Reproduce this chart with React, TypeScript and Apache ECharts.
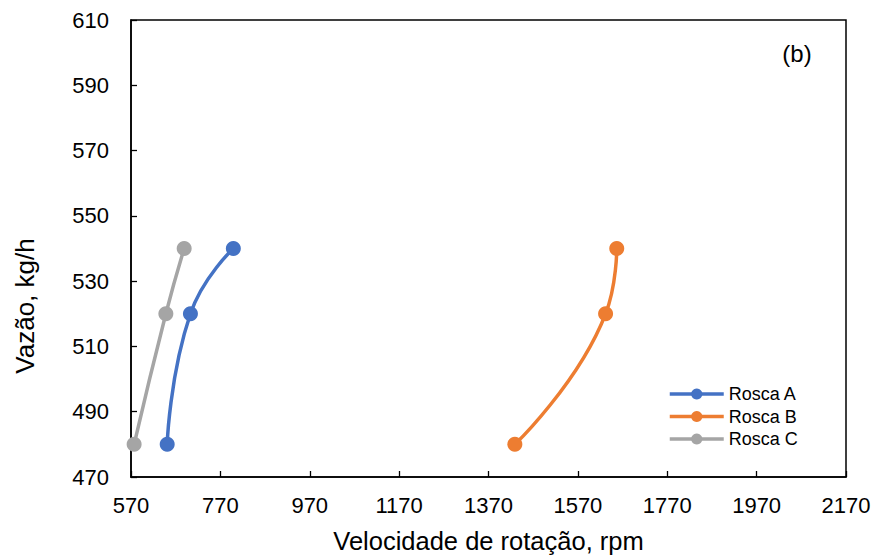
import React, { useEffect, useRef } from "react";
import * as echarts from "echarts";

const yValues = [480, 520, 540];
const roscaA = [651, 703, 799];
const roscaB = [1429, 1632, 1657];
const roscaC = [577, 648, 689];
const seriesNames = ["Rosca A", "Rosca B", "Rosca C"];
const colors = ["#4472C4", "#ED7D31", "#A5A5A5"];
const xTitle = "Velocidade de rotação, rpm";
const yTitle = "Vazão, kg/h";
const panelLabel = "(b)";

export default function App() {
  const ref = useRef<HTMLDivElement>(null);
  useEffect(() => {
    if (!ref.current) return;
    const chart = echarts.init(ref.current, null, { renderer: "svg" });
    const font = "'Liberation Sans', Arial, sans-serif";
    const datasets = [roscaA, roscaB, roscaC];
    chart.setOption({
      animation: false,
      textStyle: { fontFamily: font },
      grid: {
        left: 131,
        right: 29,
        top: 20,
        bottom: 80,
        containLabel: false,
        outerBoundsMode: "none",
        show: true,
        borderColor: "#000",
        borderWidth: 1.5,
        backgroundColor: "transparent",
      },
      legend: {
        orient: "vertical",
        left: 663,
        top: 380,
        itemWidth: 54,
        itemHeight: 14,
        itemGap: 4.5,
        lineStyle: { width: 3.5 },
        textStyle: { fontSize: 18, color: "#000", fontFamily: font },
        data: seriesNames,
      },
      graphic: [
        {
          type: "text",
          x: 797,
          y: 53,
          style: {
            text: panelLabel,
            fontSize: 24,
            fill: "#000",
            fontFamily: font,
            textAlign: "center",
            textVerticalAlign: "middle",
          },
        },
        {
          type: "text",
          x: 25,
          y: 306,
          rotation: Math.PI / 2,
          style: {
            text: yTitle,
            fontSize: 26,
            fill: "#000",
            fontFamily: font,
            textAlign: "center",
            textVerticalAlign: "middle",
          },
        },
      ],
      xAxis: {
        type: "value",
        min: 570,
        max: 2170,
        interval: 200,
        name: xTitle,
        nameLocation: "middle",
        nameGap: 51,
        nameTextStyle: { fontSize: 25.5, color: "#000", fontFamily: font },
        axisLine: { lineStyle: { color: "#000", width: 1.5 } },
        axisTick: { inside: true, length: 6, lineStyle: { color: "#000", width: 1.3 } },
        axisLabel: {
          fontSize: 22,
          color: "#000",
          margin: 17,
          fontFamily: font,
          formatter: (v: number) => String(v),
        },
        splitLine: { show: false },
      },
      yAxis: {
        type: "value",
        min: 470,
        max: 610,
        interval: 20,
        axisLine: { show: true, lineStyle: { color: "#000", width: 1.5 } },
        axisTick: { show: true, inside: true, length: 6, lineStyle: { color: "#000", width: 1.3 } },
        axisLabel: {
          fontSize: 22,
          color: "#000",
          margin: 22,
          fontFamily: font,
          formatter: (v: number) => String(v),
        },
        splitLine: { show: false },
      },
      series: datasets.map((d, i) => ({
        name: seriesNames[i],
        type: "line",
        smooth: 0.5,
        symbol: "circle",
        symbolSize: 15,
        color: colors[i],
        lineStyle: { width: 3.5, color: colors[i] },
        itemStyle: { color: colors[i] },
        data: d.map((x, j) => [x, yValues[j]]),
      })),
    });
    return () => chart.dispose();
  }, []);
  return (
    <div
      ref={ref}
      style={{ position: "absolute", left: 0, top: 0, width: 875, height: 557 }}
    />
  );
}
